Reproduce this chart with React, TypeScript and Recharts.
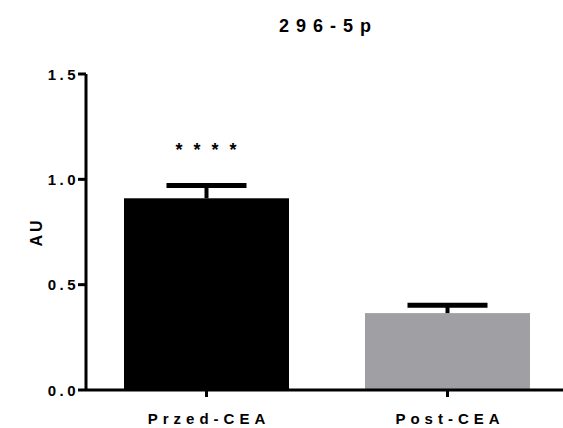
import React from 'react';
import { BarChart, Bar, XAxis, YAxis } from 'recharts';

const chartTitle = '296-5p';
const yTitle = 'AU';
const groups = ['Przed-CEA', 'Post-CEA'];
const means = [0.91, 0.365];
const sems = [0.061, 0.037];
const stars = ['****', ''];
const yTicks = [0, 0.5, 1.0, 1.5];
const barColors = ['#000000', '#a09fa4'];

const FONT = '"Liberation Sans", Arial, Helvetica, sans-serif';

const data = groups.map((g, i) => ({
  group: g,
  value: means[i],
  sem: sems[i],
  sig: stars[i],
  color: barColors[i],
}));

// bar, the upper half of its error whisker and the significance stars above it
function BarWithError(props: any) {
  const { x, y, width, height, payload } = props;
  const pxPerUnit = payload.value ? height / payload.value : 0;
  const cx = x + width / 2;
  const top = y - payload.sem * pxPerUnit;
  return (
    <g>
      <rect x={x} y={y} width={width} height={height} fill={payload.color} />
      <line x1={cx} y1={y} x2={cx} y2={top} stroke="#000" strokeWidth={4} />
      <line x1={cx - 40} y1={top} x2={cx + 40} y2={top} stroke="#000" strokeWidth={5} />
      {payload.sig ? (
        <text
          x={cx + 5}
          y={y - 42}
          textAnchor="middle"
          fill="#000"
          fontFamily={FONT}
          fontSize={18}
          fontWeight={700}
          letterSpacing={11}
        >
          {payload.sig}
        </text>
      ) : null}
    </g>
  );
}

function XTick(props: any) {
  const { x, y, payload } = props;
  return (
    <text
      x={x + 2.5}
      y={y}
      dy={10.6}
      textAnchor="middle"
      fill="#000"
      fontFamily={FONT}
      fontSize={15}
      fontWeight={700}
      letterSpacing={5}
    >
      {payload.value}
    </text>
  );
}

function YTick(props: any) {
  const { x, y, payload } = props;
  return (
    <text
      x={x + 3}
      y={y}
      dy={5.5}
      textAnchor="end"
      fill="#000"
      fontFamily={FONT}
      fontSize={15}
      fontWeight={700}
      letterSpacing={3.5}
    >
      {Number(payload.value).toFixed(1)}
    </text>
  );
}

export default function App() {
  return (
    <div style={{ position: 'fixed', left: 0, top: 0, width: 563, height: 428, overflow: 'hidden', background: '#fff' }}>
      <style>{'html, body { margin: 0; overflow: hidden; }'}</style>
      <BarChart
        width={563}
        height={428}
        data={data}
        margin={{ top: 74, right: 0, bottom: 0, left: 0 }}
        barCategoryGap={0}
      >
        <XAxis
          dataKey="group"
          height={38}
          padding={{ left: 0, right: -5 }}
          axisLine={{ stroke: '#000', strokeWidth: 3 }}
          tickLine={{ stroke: '#000', strokeWidth: 3 }}
          tickSize={7}
          tickMargin={16}
          tick={<XTick />}
          interval={0}
        />
        <YAxis
          width={86}
          domain={[0, 1.5]}
          ticks={yTicks}
          axisLine={{ stroke: '#000', strokeWidth: 3 }}
          tickLine={{ stroke: '#000', strokeWidth: 3 }}
          tickSize={8}
          tickMargin={2}
          tick={<YTick />}
        />
        <Bar dataKey="value" barSize={165} shape={<BarWithError />} isAnimationActive={false} />
      </BarChart>
      {/* heading and y-axis title */}
      <svg width={563} height={428} style={{ position: 'absolute', left: 0, top: 0, pointerEvents: 'none' }}>
        <text
          x={328.5}
          y={32}
          textAnchor="middle"
          fill="#000"
          fontFamily={FONT}
          fontSize={18}
          fontWeight={700}
          letterSpacing={7}
        >
          {chartTitle}
        </text>
        <text
          x={36}
          y={232}
          transform="rotate(-90, 36, 232)"
          textAnchor="middle"
          dominantBaseline="central"
          fill="#000"
          fontFamily={FONT}
          fontSize={16}
          fontWeight={700}
          letterSpacing={3}
        >
          {yTitle}
        </text>
      </svg>
    </div>
  );
}
